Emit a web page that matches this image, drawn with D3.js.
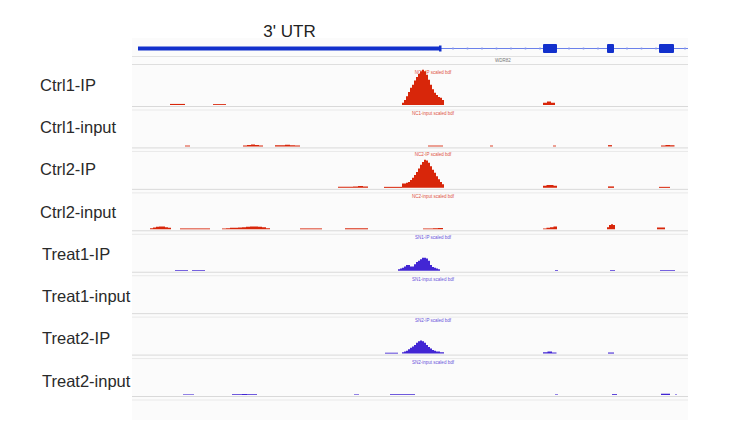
<!DOCTYPE html>
<html>
<head>
<meta charset="utf-8">
<script src="https://cdn.jsdelivr.net/npm/d3@7"></script>
<style>
  body { margin: 0; background: #fff; }
  svg { display: block; font-family: "Liberation Sans", Arial, sans-serif; }
</style>
</head>
<body>
<svg id="chart" width="736" height="424"></svg>
<script>
// region in bp (relative), gene model
var regionBp = [0, 5560];
var utr = [60, 3090];
var exons = [[4110, 4250], [4750, 4820], [5270, 5420]];
var geneName = 'WDR82';

var trackNames = ['Ctrl1-IP', 'Ctrl1-input', 'Ctrl2-IP', 'Ctrl2-input',
                  'Treat1-IP', 'Treat1-input', 'Treat2-IP', 'Treat2-input'];
var trackTitles = ['NC1-IP scaled bdf', 'NC1-input scaled bdf', 'NC2-IP scaled bdf', 'NC2-input scaled bdf',
                   'SN1-IP scaled bdf', 'SN1-input scaled bdf', 'SN2-IP scaled bdf', 'SN2-input scaled bdf'];

// coverage: [start bp, bin width bp, [values per bin]]
var ctrl1IP = [
  [380, 150, [1.5]], [810, 130, [1.2]],
  [2700, 20, [3, 7, 12, 18, 24, 28, 34, 39, 43, 47, 49, 47, 42, 35, 28, 22, 17, 14, 11, 10, 7]],
  [4110, 40, [3, 5, 3]]
];
var ctrl1Input = [
  [530, 50, [1.2]], [1110, 40, [1.2, 2, 2.8, 2, 1.2]], [1430, 50, [1.5, 1.5, 2.5, 1.5, 1.2]],
  [2960, 150, [1.2]], [3580, 30, [1.2]], [4210, 30, [1.2]], [4760, 40, [1.8]],
  [5290, 45, [1.2, 2, 1.5]]
];
var ctrl2IP = [
  [2060, 50, [1.5, 1.5, 1.5, 2, 2.5, 2]], [2520, 180, [1.4]],
  [2700, 20, [6, 6, 7, 8, 11, 14, 18, 22, 27, 32, 36, 39, 38, 35, 30, 25, 21, 16, 12, 8, 5]],
  [4110, 35, [3, 4, 4, 3]], [4760, 60, [2]], [5270, 110, [1.4]]
];
var ctrl2Input = [
  [180, 30, [1.5, 2.5, 3.5, 4, 4, 3, 2]], [480, 300, [1.2]],
  [900, 40, [1.2, 1.5, 2, 2, 2.5, 3, 3.5, 4, 4, 3.5, 3, 1.5]],
  [1680, 220, [1.2]], [2130, 230, [1.4]], [2910, 50, [1.2, 1.2, 1.5, 1.8]],
  [4110, 35, [1.2, 2, 3, 4]], [4750, 20, [3, 6, 7, 6]], [5250, 80, [2.5]]
];
var treat1IP = [
  [430, 130, [1]], [600, 130, [1]],
  [2660, 20, [2, 3, 4, 6, 8, 8, 6, 6, 9, 12, 14, 16, 18, 18, 17, 14, 8, 5, 4, 3, 2]],
  [4230, 30, [1]], [4780, 50, [1]], [5280, 150, [1]]
];
var treat1Input = [];
var treat2IP = [
  [2530, 130, [1.2]],
  [2700, 20, [2, 3, 4, 6, 8, 10, 12, 15, 17, 18, 17, 15, 12, 9, 7, 5, 4, 3, 3, 2, 2]],
  [4110, 45, [2, 3, 1.5]], [4760, 60, [1.5]]
];
var treat2Input = [
  [510, 110, [0.8]], [1000, 50, [1, 1.2, 1.5, 1.2, 1]], [2220, 50, [0.8]],
  [2580, 50, [1, 1.2, 1.2, 1, 1]], [4230, 30, [0.8]], [4800, 50, [1.2]],
  [5290, 90, [1.8]], [5430, 20, [0.8]]
];
var coverage = [ctrl1IP, ctrl1Input, ctrl2IP, ctrl2Input, treat1IP, treat1Input, treat2IP, treat2Input];
var trackColors = ['#d8260a', '#d8260a', '#d8260a', '#d8260a', '#4226d4', '#4226d4', '#4226d4', '#4226d4'];
var dataRange = [0, 50];

var svg = d3.select('#chart');
var x = d3.scaleLinear().domain(regionBp).range([132, 688]);
var trackY = d3.scaleBand().domain(trackNames).range([68, 68 + 41.43 * 8]).paddingInner(0);
var labelY = d3.scalePoint().domain(trackNames).range([85, 381]);
var trackH = 37;

// panel background
svg.append('rect')
  .attr('x', 132).attr('y', 38).attr('width', 556).attr('height', 382)
  .attr('fill', '#fbfbfb');

// gene track
var geneG = svg.append('g');
var geneColor = '#1230cc';
geneG.append('line')
  .attr('x1', x(utr[1])).attr('x2', x(regionBp[1]))
  .attr('y1', 48.5).attr('y2', 48.5)
  .attr('stroke', '#6a80ea').attr('stroke-width', 1);

// little strand ticks along the intron
var tickPos = d3.range(x(utr[1]) + 12, x(regionBp[1]) - 2, 14.5).filter(function(p){
  return !exons.some(function(e){ return p > x(e[0]) - 3 && p < x(e[1]) + 3; });
});
geneG.selectAll('.chev').data(tickPos).enter().append('circle')
  .attr('cx', function(p){ return p; }).attr('cy', 48.5).attr('r', 1.1)
  .attr('fill', '#7f90ec');

geneG.append('rect')
  .attr('x', x(utr[0])).attr('y', 46.5)
  .attr('width', x(utr[1]) - x(utr[0])).attr('height', 4)
  .attr('fill', geneColor);
geneG.append('rect')
  .attr('x', x(utr[1]) - 2).attr('y', 45.5).attr('width', 2.5).attr('height', 6)
  .attr('fill', geneColor);
geneG.selectAll('.exon').data(exons).enter().append('rect')
  .attr('x', function(d){ return x(d[0]); })
  .attr('y', 44).attr('rx', 1)
  .attr('width', function(d){ return x(d[1]) - x(d[0]); })
  .attr('height', 9)
  .attr('fill', geneColor);

svg.append('text')
  .attr('x', (x(utr[0]) + x(utr[1])) / 2).attr('y', 37)
  .attr('text-anchor', 'middle')
  .attr('font-size', 17).attr('fill', '#222')
  .text("3' UTR");

svg.append('line').attr('x1', 132).attr('x2', 688).attr('y1', 56.5).attr('y2', 56.5)
  .attr('stroke', '#e2e2e2');
svg.append('text')
  .attr('x', x(3710)).attr('y', 62)
  .attr('text-anchor', 'middle').attr('font-size', 4.5).attr('fill', '#777')
  .text(geneName);
svg.append('line').attr('x1', 132).attr('x2', 688).attr('y1', 64.5).attr('y2', 64.5)
  .attr('stroke', '#dedede');

// coverage tracks
var area = d3.area().curve(d3.curveStepAfter)
  .x(function(d){ return x(d[0]); });

trackNames.forEach(function(name, i){
  var top = trackY(name);
  var base = top + trackH;
  var y = d3.scaleLinear().domain(dataRange).range([base, base - 36]);
  var g = svg.append('g');

  g.append('line').attr('x1', 132).attr('x2', 688)
    .attr('y1', base + 1.5).attr('y2', base + 1.5)
    .attr('stroke', '#d9d9d9');
  g.append('line').attr('x1', 132).attr('x2', 688)
    .attr('y1', base + 5).attr('y2', base + 5)
    .attr('stroke', '#e9e9e9');

  g.append('text')
    .attr('x', 433).attr('y', top + 5.5)
    .attr('text-anchor', 'middle').attr('font-size', 4.5)
    .attr('fill', trackColors[i]).attr('opacity', 0.8)
    .text(trackTitles[i]);

  coverage[i].forEach(function(seg){
    var pts = seg[2].map(function(v, k){ return [seg[0] + k * seg[1], v]; });
    pts.push([seg[0] + seg[2].length * seg[1], seg[2][seg[2].length - 1]]);
    area.y0(base).y1(function(d){ return y(d[1]); });
    g.append('path')
      .attr('d', area(pts))
      .attr('fill', trackColors[i]);
  });

  svg.append('text')
    .attr('x', i < 4 ? 40 : 42).attr('y', labelY(name))
    .attr('dy', '0.35em')
    .attr('font-size', 16.5).attr('fill', '#2a2a2a')
    .text(name);
});
</script>
</body>
</html>
